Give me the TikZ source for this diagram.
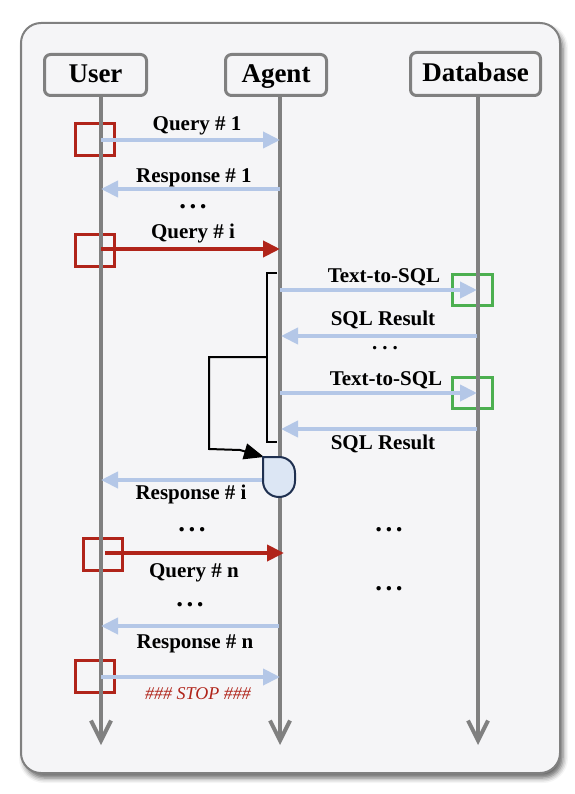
\documentclass[tikz,border=0pt]{standalone}
\usepackage{fontspec}
\setmainfont{Liberation Serif}
\usetikzlibrary{arrows.meta,shadows.blur}
\definecolor{bgc}{HTML}{F5F5F7}
\definecolor{lgray}{HTML}{808080}
\definecolor{lblue}{HTML}{B4C7E7}
\definecolor{qred}{HTML}{B0241A}
\definecolor{sqgreen}{HTML}{4CAF50}
\definecolor{dfill}{HTML}{DCE6F4}
\definecolor{dnavy}{HTML}{1F3050}
\begin{document}
\begin{tikzpicture}[x=1pt,y=-1pt,
  hdr/.style={draw=lgray, line width=3pt, rounded corners=6pt, fill=bgc, inner sep=0pt,
    minimum height=41pt, text height=18pt, text depth=2.5pt,
    font=\fontsize{27}{27}\selectfont\bfseries},
  life/.style={draw=lgray, line width=4pt, -{Straight Barb[length=20pt,width=20pt]}},
  msg/.style={draw=lblue, line width=4pt, -{Triangle[length=17pt,width=16pt]}},
  qmsg/.style={draw=qred, line width=4pt, -{Triangle[length=17pt,width=16pt]}},
  lbl/.style={anchor=base, inner sep=0pt, font=\fontsize{21}{21}\selectfont\bfseries},
  dotlbl/.style={anchor=base, inner sep=0pt, text height=5pt, text depth=0pt,
    font=\fontsize{27}{27}\selectfont\bfseries},
  smalldot/.style={dotlbl, font=\fontsize{21}{21}\selectfont\bfseries},
  stoplbl/.style={anchor=base, inner sep=0pt, text=qred, font=\fontsize{18}{18}\selectfont\itshape},
  rsq/.style={draw=qred, line width=3pt, minimum width=39pt, minimum height=32pt, inner sep=0pt},
  gsq/.style={draw=sqgreen, line width=3pt, minimum width=40pt, minimum height=31pt, inner sep=0pt},
  brk/.style={draw=black, line width=2pt},
  dshape/.style={draw=dnavy, fill=dfill, line width=2pt},
]
\useasboundingbox (0,0) rectangle (574,794);
% frame
\draw[draw=lgray, line width=2pt, fill=bgc, rounded corners=20pt,
  blur shadow={shadow xshift=3pt, shadow yshift=-5pt, shadow blur radius=5pt, shadow opacity=60}]
  (21,23) rectangle (560,773);

% headers
\node[hdr, minimum width=102pt] (user) at (95.5,75) {User};
\node[hdr, minimum width=101pt] (agent) at (276,75) {Agent};
\node[hdr, minimum width=130pt, minimum height=43pt] (db) at (475.5,74) {Database};

% red / green squares
\node[rsq] (s1) at (95,139.5) {};
\node[rsq] (s2) at (94.5,250) {};
\node[rsq] (s3) at (103,554.5) {};
\node[rsq] (s4) at (95,676.5) {};
\node[gsq] (g1) at (472.5,289.5) {};
\node[gsq] (g2) at (472.5,392.5) {};

% lifelines
\coordinate (uTop) at (101,96); \coordinate (uEnd) at (101,745);
\coordinate (aTop) at (280,96); \coordinate (aEnd) at (280,745);
\coordinate (dTop) at (478,96); \coordinate (dEnd) at (478,745);
\draw[life] (uTop) -- (uEnd);
\draw[life] (aTop) -- (aEnd);
\draw[life] (dTop) -- (dEnd);

% messages
\coordinate (q1s) at (101,140); \coordinate (q1e) at (280,140);
\draw[msg] (q1s) -- (q1e);
\coordinate (r1s) at (280,189); \coordinate (r1e) at (101,189);
\draw[msg] (r1s) -- (r1e);
\coordinate (qis) at (101,249); \coordinate (qie) at (280,249);
\draw[qmsg] (qis) -- (qie);
\coordinate (t1s) at (280,290); \coordinate (t1e) at (477,290);
\draw[msg] (t1s) -- (t1e);
\coordinate (sr1s) at (477,336); \coordinate (sr1e) at (281,336);
\draw[msg] (sr1s) -- (sr1e);
\coordinate (t2s) at (280,393); \coordinate (t2e) at (477,393);
\draw[msg] (t2s) -- (t2e);
\coordinate (sr2s) at (477,429); \coordinate (sr2e) at (281,429);
\draw[msg] (sr2s) -- (sr2e);
\coordinate (ris) at (264,480); \coordinate (rie) at (101,480);
\draw[msg] (ris) -- (rie);
\coordinate (qns) at (105,553); \coordinate (qne) at (284,553);
\draw[qmsg] (qns) -- (qne);
\coordinate (rns) at (279,626); \coordinate (rne) at (101,626);
\draw[msg] (rns) -- (rne);
\coordinate (sts) at (101,677); \coordinate (ste) at (280,677);
\draw[msg] (sts) -- (ste);

% bracket and loop
\coordinate (bt) at (277,273); \coordinate (btl) at (267,273);
\coordinate (bbl) at (267,442); \coordinate (bb) at (277,442);
\coordinate (bm) at (267,357); \coordinate (lm) at (209,357);
\coordinate (lb) at (209,449); \coordinate (lk) at (240,450);
\coordinate (dtl) at (264,457);
\draw[brk] (bt) -- (btl) -- (bbl) -- (bb);
\draw[brk, -{Triangle[length=20pt,width=16pt]}] (bm) -- (lm) -- (lb) -- (lk) -- (dtl);

% decision shape
\draw[dshape] (263,457) -- (279,457) .. controls (288,457) and (295,464) .. (295,473)
  -- (295,481) .. controls (295,490) and (288,497) .. (279,497)
  .. controls (270,497) and (263,490) .. (263,481) -- cycle;

% labels
\node[lbl] (lq1) at (197,131) {Query \# 1};
\node[lbl] (lr1) at (194,183) {Response \# 1};
\node[dotlbl] (d1) at (193,208) {.\kern3.5pt.\kern3.5pt.};
\node[lbl] (lqi) at (193,238) {Query \# i};
\node[lbl] (lt1) at (384,282) {Text-to-SQL};
\node[lbl] (ls1) at (383,325) {SQL Result};
\node[smalldot] (d2) at (385,349) {.\kern5pt.\kern5pt.};
\node[lbl] (lt2) at (386,385) {Text-to-SQL};
\node[lbl] (ls2) at (383,449) {SQL Result};
\node[lbl] (lri) at (191,499) {Response \# i};
\node[dotlbl] (d3) at (192,531) {.\kern3.5pt.\kern3.5pt.};
\node[dotlbl] (d4) at (389,531) {.\kern3.5pt.\kern3.5pt.};
\node[lbl] (lqn) at (194,577) {Query \# n};
\node[dotlbl] (d5) at (389,590) {.\kern3.5pt.\kern3.5pt.};
\node[dotlbl] (d6) at (190,606) {.\kern3.5pt.\kern3.5pt.};
\node[lbl] (lrn) at (195,648) {Response \# n};
\node[stoplbl] (lst) at (198,699) {\#\#\# STOP \#\#\#};
\end{tikzpicture}
\end{document}
